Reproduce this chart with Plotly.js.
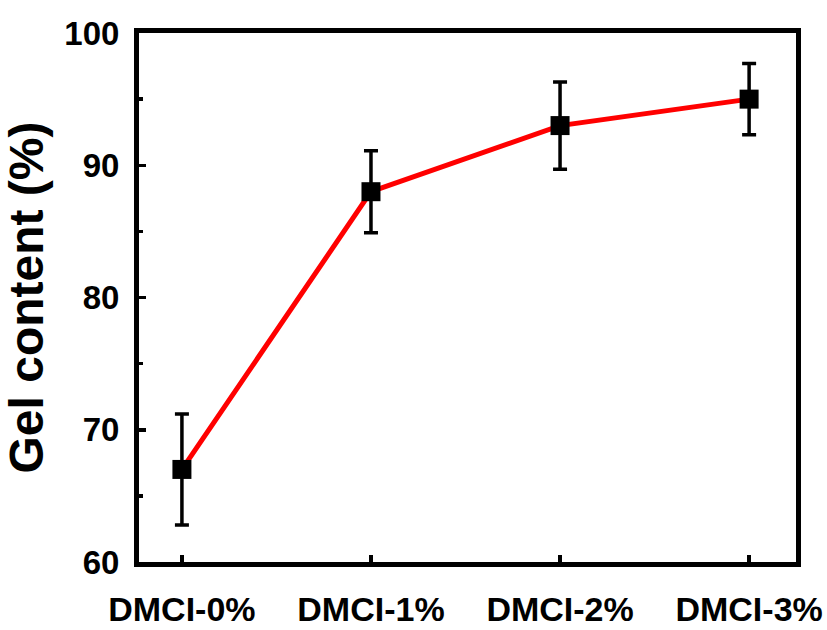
<!DOCTYPE html>
<html><head><meta charset="utf-8">
<script src="https://cdn.plot.ly/plotly-3.0.1.min.js"></script>
<style>html,body{margin:0;padding:0;background:#fff}#chart{width:827px;height:630px}</style>
</head><body><div id="chart"></div>
<script>
const categories = ["DMCI-0%", "DMCI-1%", "DMCI-2%", "DMCI-3%"];
const gelContent = [67.0, 88.0, 93.0, 95.0];
const gelError = [4.2, 3.1, 3.3, 2.7];
const yTicks = [60, 70, 80, 90, 100];

const xIdx = categories.map((c, i) => i);

const traces = [
  {
    x: xIdx, y: gelContent, type: 'scatter', mode: 'lines',
    line: {color: '#ff0000', width: 5}, hoverinfo: 'skip', showlegend: false
  },
  {
    x: xIdx, y: gelContent, type: 'scatter', mode: 'markers',
    marker: {symbol: 'square', size: 19, color: '#000000'},
    error_y: {type: 'data', array: gelError, visible: true, color: '#000000', thickness: 3.5, width: 7},
    showlegend: false
  }
];

const font = "Arial, 'Liberation Sans', sans-serif";
const layout = {
  width: 827, height: 630,
  margin: {l: 139, r: 31, t: 33, b: 68},
  paper_bgcolor: '#ffffff', plot_bgcolor: '#ffffff',
  showlegend: false,
  xaxis: {
    range: [-0.227, 3.248],
    tickmode: 'array', tickvals: xIdx, ticktext: categories,
    ticks: 'inside', ticklen: 7, tickwidth: 3.5, tickcolor: '#000',
    showline: true, linewidth: 5, linecolor: '#000', mirror: true,
    showgrid: false, zeroline: false,
    tickfont: {family: font, size: 34, color: '#000', weight: 'bold'},
    ticklabelstandoff: 13
  },
  yaxis: {
    range: [60, 100],
    tickmode: 'array', tickvals: yTicks,
    ticks: 'inside', ticklen: 7, tickwidth: 3.5, tickcolor: '#000',
    minor: {dtick: 5, ticks: 'inside', ticklen: 4, tickwidth: 3.5, tickcolor: '#000', showgrid: false},
    showline: true, linewidth: 5, linecolor: '#000', mirror: true,
    showgrid: false, zeroline: false,
    tickfont: {family: font, size: 33, color: '#000', weight: 'bold'},
    ticklabelstandoff: 8,
    title: {text: 'Gel content (%)', font: {family: font, size: 48, color: '#000', weight: 'bold'}, standoff: 12}
  }
};

Plotly.newPlot('chart', traces, layout, {displayModeBar: false, staticPlot: true});
</script>
</body></html>
